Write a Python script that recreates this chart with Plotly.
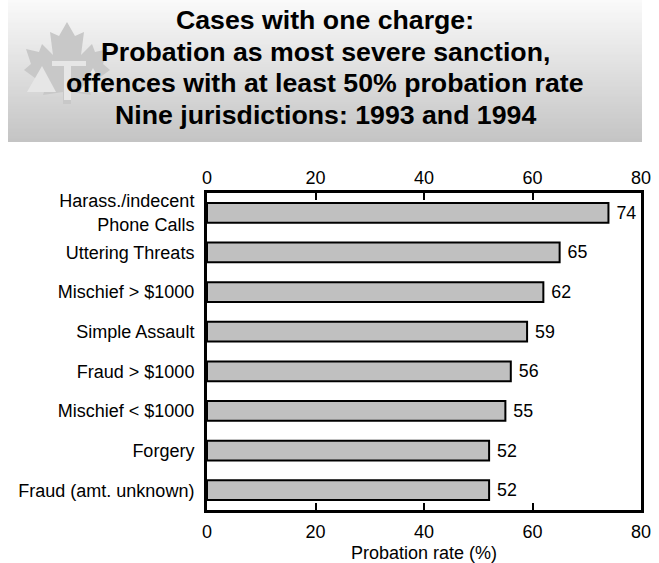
import plotly.graph_objects as go

categories = ["Harass./indecent<br>Phone Calls", "Uttering Threats", "Mischief > $1000",
              "Simple Assault", "Fraud > $1000", "Mischief < $1000", "Forgery",
              "Fraud (amt. unknown)"]
values = [74, 65, 62, 59, 56, 55, 52, 52]
tick_vals = [0, 20, 40, 60, 80]
title_lines = ["Cases with one charge:", "Probation as most severe sanction,",
               "offences with at least 50% probation rate", "Nine jurisdictions: 1993 and 1994"]
x_title = "Probation rate (%)"

W, H = 659, 563
L, R, T, B = 207, 18, 193, 53
PW, PH = W - L - R, H - T - B
FONT = "Arial, Liberation Sans, sans-serif"


def px(x):
    return (x - L) / PW


def py(y):
    return (H - B - y) / PH


fig = go.Figure()
fig.add_trace(go.Bar(
    x=values, y=categories, orientation="h",
    marker=dict(color="#c0c0c0", line=dict(color="black", width=2)),
    text=[" " + str(v) for v in values], textposition="outside",
    textfont=dict(size=18, color="black", family=FONT),
    cliponaxis=False, showlegend=False, hoverinfo="skip",
))
fig.add_trace(go.Scatter(x=[None], y=[None], xaxis="x2", showlegend=False))

shapes = []
# gradient title box
x0, x1, y0, y1 = 8, 642, 0, 142
n = 71
c_top, c_bot = 250, 196
for i in range(n):
    ya = y0 + (y1 - y0) * i / n
    yb = y0 + (y1 - y0) * (i + 1) / n
    c = round(c_top + (c_bot - c_top) * (i + 0.5) / n)
    shapes.append(dict(type="rect", xref="paper", yref="paper", layer="below",
                       x0=px(x0), x1=px(x1), y0=py(yb), y1=py(ya) + 0.0005,
                       fillcolor=f"rgb({c},{c},{c})", line=dict(width=0)))

leaf = [(67, 22), (75, 36), (84, 32), (81, 55), (92, 44), (95, 52), (108, 49), (103, 64),
        (110, 70), (88, 86), (91, 95), (71, 92), (71, 104), (63, 104), (63, 92), (43, 95),
        (46, 86), (24, 70), (31, 64), (26, 49), (39, 52), (42, 44), (53, 55), (50, 32), (59, 36)]


def path(pts):
    return "M " + " L ".join(f"{px(a):.5f},{py(b):.5f}" for a, b in pts) + " Z"


shapes.append(dict(type="path", xref="paper", yref="paper", layer="below",
                   path=path(leaf), fillcolor="#c8c8c8", line=dict(width=0)))
shapes.append(dict(type="path", xref="paper", yref="paper", layer="below",
                   path=path([(27, 92), (42, 66), (56, 92)]), fillcolor="#e6e6e6", line=dict(width=0)))
shapes.append(dict(type="path", xref="paper", yref="paper", layer="below",
                   path=path([(52, 61), (86, 61), (86, 66), (71, 66), (71, 100), (64, 100), (64, 66), (52, 66)]),
                   fillcolor="#e6e6e6", line=dict(width=0)))
shapes.append(dict(type="path", xref="paper", yref="paper", layer="below",
                   path=path([(80, 92), (93, 68), (106, 92)]), fillcolor="#e6e6e6", line=dict(width=0)))

title_y = [20, 52, 83, 115.5]
annotations = [dict(text=f"<b>{t}</b>", xref="paper", yref="paper",
                    x=px(325), y=py(yc), xanchor="center", yanchor="middle",
                    showarrow=False, font=dict(size=26.7, family=FONT, color="black"))
               for t, yc in zip(title_lines, title_y)]

fig.update_layout(
    width=W, height=H,
    margin=dict(l=L, r=R, t=T, b=B, pad=0, autoexpand=False),
    paper_bgcolor="white", plot_bgcolor="rgba(0,0,0,0)",
    bargap=0.5,
    font=dict(family=FONT, size=18, color="black"),
    shapes=shapes,
    annotations=annotations,
    xaxis=dict(range=[0, 80], tickvals=tick_vals, ticks="inside", ticklen=7, tickwidth=2,
               tickcolor="black", showline=True, linewidth=3, linecolor="black",
               mirror="ticks", showgrid=False, zeroline=False, automargin=False,
               tickfont=dict(size=18), ticklabelstandoff=3,
               title=dict(text=x_title, font=dict(size=18), standoff=12)),
    xaxis2=dict(overlaying="x", side="top", matches="x", range=[0, 80], tickvals=tick_vals,
                ticks="", showline=False, showgrid=False, zeroline=False, automargin=False,
                tickfont=dict(size=18), ticklabelstandoff=4),
    yaxis=dict(autorange=False, range=[7.5, -0.5], ticks="", showline=True, linewidth=3,
               linecolor="black", mirror=True, showgrid=False, zeroline=False, automargin=False,
               tickfont=dict(size=18), ticklabelstandoff=6),
)

fig.write_html("out.html")
